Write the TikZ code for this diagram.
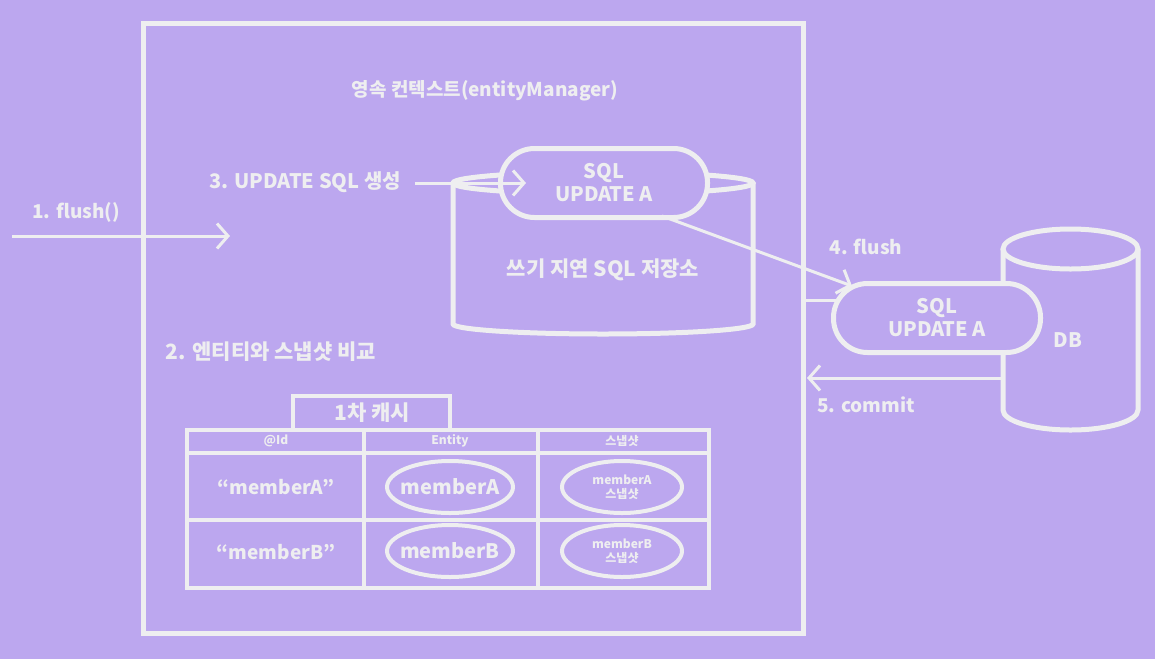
\documentclass[tikz,border=0pt]{standalone}
\usepackage{fontspec}
\setmainfont{Noto Sans CJK KR}
\usetikzlibrary{arrows.meta}
\definecolor{bg}{HTML}{BCA7EF}
\definecolor{ln}{HTML}{EEEEF0}
\begin{document}
\begin{tikzpicture}[x=1pt,y=-1pt,
  lbl/.style={text=ln, font=\bfseries\fontsize{19}{22}\selectfont, inner sep=0pt},
  kr/.style={text=ln, font=\bfseries\fontsize{21}{24}\selectfont, inner sep=0pt},
  big/.style={text=ln, font=\bfseries\fontsize{20}{23}\selectfont, inner sep=0pt, align=center},
  small/.style={text=ln, font=\bfseries\fontsize{12}{14}\selectfont, inner sep=0pt, align=center},
  arr/.style={draw=ln, line width=3pt, -{Straight Barb[length=11pt,width=25pt]}},
  conn/.style={draw=ln, line width=3pt},
  shp/.style={draw=ln, line width=5pt},
  pill/.style={draw=ln, line width=5pt, fill=bg, rounded corners=34pt, minimum width=207pt, minimum height=69pt, inner sep=0pt},
  tline/.style={draw=ln, line width=4.5pt},
]
\fill[bg] (0,0) rectangle (1155,659);
\useasboundingbox (0,0) rectangle (1155,659);

% frame
\node[shp, minimum width=660pt, minimum height=610pt, inner sep=0pt] (frame) at (473,328) {};
\node[lbl] (title) at (485,91) {영속 컨텍스트(entityManager)};

% 1. flush()
\coordinate (in1) at (12,236);
\coordinate (in2) at (230,236);
\draw[arr] (in1) -- (in2);
\node[lbl] (l1) at (76,212) {1. flush()};

% storage cylinder
\draw[shp] (603,183) ellipse [x radius=150, y radius=11];
\draw[shp] (453,183) -- (453,324) arc[start angle=180, end angle=0, x radius=150, y radius=10] -- (753,183);
\node[kr] (store) at (603,270) {쓰기 지연 SQL 저장소};

\node[pill, big] (sql1) at (604,183) {SQL\\UPDATE A};

% 3. update sql
\node[lbl, font=\bfseries\fontsize{20}{23}\selectfont] (l3) at (305,182) {3. UPDATE SQL 생성};
\coordinate (a3s) at (415,183);
\coordinate (a3e) at (526,183);
\draw[arr] (a3s) -- (a3e);

% DB cylinder
\draw[shp] (1070.5,249) ellipse [x radius=67.5, y radius=20];
\draw[shp] (1003,249) -- (1003,410) arc[start angle=180, end angle=0, x radius=67.5, y radius=20] -- (1138,249);
\node[big] (db) at (1068,340) {DB};

\node[pill, big] (sql2) at (937,318) {SQL\\UPDATE A};

% 4. flush
\coordinate (a4s) at (662,216);
\coordinate (a4e) at (852,286);
\draw[arr] (a4s) -- (a4e);
\node[lbl] (l4) at (866,247) {4. flush};
\coordinate (f300) at (805,300);
\coordinate (p300) at (836,300);
\draw[conn] (f300) -- (p300);

% 5. commit
\coordinate (a5s) at (1002,378);
\coordinate (a5e) at (807,378);
\draw[arr] (a5s) -- (a5e);
\node[lbl] (l5) at (866,405) {5. commit};

% 2.
\node[kr] (l2) at (271,352) {2. 엔티티와 스냅샷 비교};

% table
\draw[tline] (293,430) -- (293,396) -- (450,396) -- (450,430);
\node[kr] (cache) at (372,413) {1차 캐시};
\draw[tline] (187,430) rectangle (709,588);
\draw[tline] (187,453) -- (709,453);
\draw[tline] (187,520) -- (709,520);
\draw[tline] (364,430) -- (364,588);
\draw[tline] (538,430) -- (538,588);

\node[small] (hid) at (276,441) {@Id};
\node[small] (hent) at (450,441) {Entity};
\node[small] (hsnap) at (622,441) {스냅샷};

\node[big, font=\bfseries\fontsize{19}{23}\selectfont] (ida) at (276,487) {“memberA”};
\node[big, font=\bfseries\fontsize{19}{23}\selectfont] (idb) at (276,552) {“memberB”};

\draw[draw=ln, line width=4pt] (450,487) ellipse [x radius=63, y radius=26];
\node[big] (ea) at (450,487) {memberA};
\draw[draw=ln, line width=4pt] (450,551) ellipse [x radius=63, y radius=26];
\node[big] (eb) at (450,551) {memberB};

\draw[draw=ln, line width=4pt] (622,487) ellipse [x radius=60, y radius=26];
\node[small] (sa) at (622,487) {memberA\\스냅샷};
\draw[draw=ln, line width=4pt] (622,551) ellipse [x radius=60, y radius=26];
\node[small] (sb) at (622,551) {memberB\\스냅샷};
\end{tikzpicture}
\end{document}
